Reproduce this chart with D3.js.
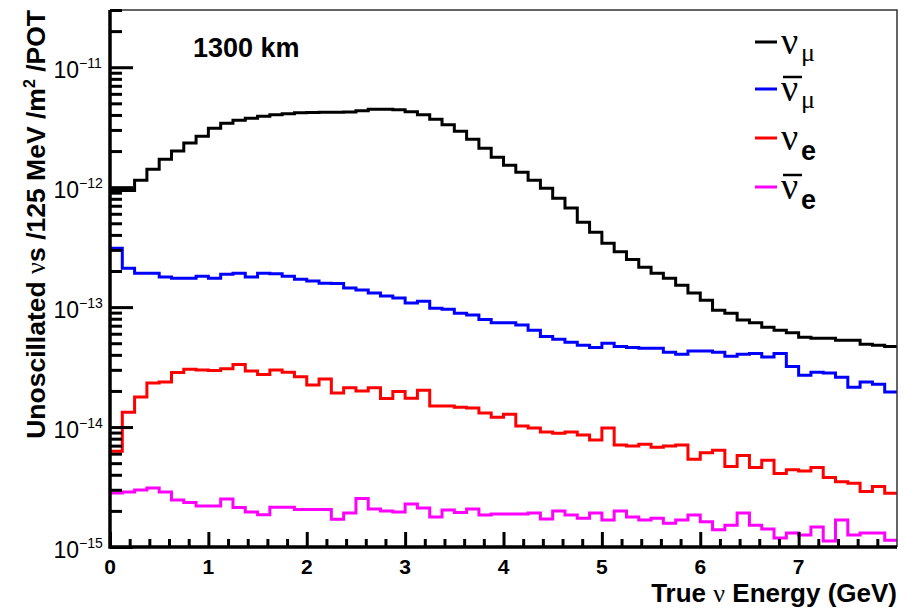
<!DOCTYPE html>
<html>
<head>
<meta charset="utf-8">
<script src="https://cdn.jsdelivr.net/npm/d3@7"></script>
<style>
	body { margin: 0; background: #fff; }
	svg { display: block; font-family: "Liberation Sans", Arial, Helvetica, sans-serif; }
</style>
</head>
<body>
<div id="graph"></div>
<script>
let width = 911;
let height = 609;

let padding = {
	top: 10,
	right: 14,
	bottom: 62,
	left: 110
	};

// 64 bins of 125 MeV from 0 to 8 GeV
let binWidth = 0.125;
let binEdges = d3.range(64).map(i => i * binWidth);

// Unoscillated fluxes per bin
let numu = [
	9.4e-13, 9.4e-13, 1.14e-12, 1.41e-12, 1.71e-12, 2.0e-12, 2.33e-12, 2.66e-12,
	3.1e-12, 3.41e-12, 3.62e-12, 3.76e-12, 3.91e-12, 4.02e-12, 4.1e-12, 4.18e-12,
	4.2e-12, 4.22e-12, 4.22e-12, 4.24e-12, 4.34e-12, 4.47e-12, 4.47e-12, 4.43e-12,
	4.26e-12, 4.02e-12, 3.69e-12, 3.32e-12, 2.93e-12, 2.51e-12, 2.11e-12, 1.78e-12,
	1.52e-12, 1.33e-12, 1.14e-12, 9.8e-13, 8.1e-13, 6.7e-13, 5.1e-13, 4.2e-13,
	3.4e-13, 2.9e-13, 2.5e-13, 2.15e-13, 1.92e-13, 1.74e-13, 1.52e-13, 1.31e-13,
	1.14e-13, 9.4e-14, 8.9e-14, 7.8e-14, 7.4e-14, 6.8e-14, 6.4e-14, 6.1e-14,
	5.6e-14, 5.5e-14, 5.5e-14, 5.3e-14, 5.3e-14, 4.9e-14, 4.8e-14, 4.7e-14
	];
let numubar = [
	3.1e-13, 2.11e-13, 1.92e-13, 1.92e-13, 1.78e-13, 1.74e-13, 1.74e-13, 1.81e-13,
	1.74e-13, 1.88e-13, 1.92e-13, 1.78e-13, 1.92e-13, 1.9e-13, 1.81e-13, 1.71e-13,
	1.65e-13, 1.58e-13, 1.57e-13, 1.44e-13, 1.39e-13, 1.31e-13, 1.24e-13, 1.19e-13,
	1.08e-13, 1.12e-13, 9.8e-14, 9.6e-14, 8.9e-14, 8.6e-14, 7.9e-14, 7.4e-14,
	7.4e-14, 7.1e-14, 6.4e-14, 5.7e-14, 5.4e-14, 5.1e-14, 4.8e-14, 4.6e-14,
	5.0e-14, 4.7e-14, 4.6e-14, 4.55e-14, 4.55e-14, 4.2e-14, 4.05e-14, 4.3e-14,
	4.3e-14, 4.2e-14, 3.9e-14, 4.05e-14, 4.1e-14, 3.83e-14, 4.1e-14, 3.2e-14,
	2.7e-14, 2.87e-14, 2.82e-14, 2.6e-14, 2.15e-14, 2.37e-14, 2.28e-14, 1.96e-14
	];
let nue = [
	6.3e-15, 1.33e-14, 1.78e-14, 2.33e-14, 2.37e-14, 2.85e-14, 3.04e-14, 2.99e-14,
	2.96e-14, 3.07e-14, 3.32e-14, 2.93e-14, 2.74e-14, 2.99e-14, 2.87e-14, 2.63e-14,
	2.24e-14, 2.51e-14, 1.92e-14, 2.13e-14, 2.0e-14, 2.13e-14, 1.73e-14, 1.98e-14,
	1.74e-14, 2.03e-14, 1.5e-14, 1.5e-14, 1.46e-14, 1.44e-14, 1.31e-14, 1.21e-14,
	1.28e-14, 1.02e-14, 9.8e-15, 9.1e-15, 8.9e-15, 9.1e-15, 8.6e-15, 7.8e-15,
	9.8e-15, 7.1e-15, 6.95e-15, 7.2e-15, 6.8e-15, 6.95e-15, 7.1e-15, 5.4e-15,
	6.1e-15, 6.4e-15, 4.7e-15, 5.8e-15, 4.6e-15, 5.3e-15, 4.1e-15, 4.4e-15,
	4.3e-15, 4.6e-15, 3.8e-15, 3.5e-15, 3.4e-15, 2.9e-15, 3.2e-15, 2.8e-15
	];
let nuebar = [
	2.82e-15, 2.87e-15, 2.99e-15, 3.1e-15, 2.87e-15, 2.46e-15, 2.35e-15, 2.2e-15,
	2.2e-15, 2.51e-15, 2.13e-15, 1.96e-15, 1.86e-15, 2.15e-15, 2.15e-15, 2.05e-15,
	2.05e-15, 2.05e-15, 1.7e-15, 1.92e-15, 2.54e-15, 2.07e-15, 2.0e-15, 1.96e-15,
	2.28e-15, 2.11e-15, 1.78e-15, 2.03e-15, 1.94e-15, 2.07e-15, 1.85e-15, 1.88e-15,
	1.88e-15, 1.88e-15, 1.92e-15, 1.71e-15, 2.0e-15, 1.85e-15, 1.74e-15, 1.92e-15,
	1.68e-15, 2.0e-15, 1.78e-15, 1.68e-15, 1.74e-15, 1.58e-15, 1.68e-15, 1.85e-15,
	1.62e-15, 1.39e-15, 1.52e-15, 1.92e-15, 1.52e-15, 1.41e-15, 1.19e-15, 1.31e-15,
	1.26e-15, 1.47e-15, 1.12e-15, 1.68e-15, 1.26e-15, 1.31e-15, 1.31e-15, 1.14e-15
	];

let seriesColours = ["#000000", "#0000ff", "#ff0000", "#ff00ff"];
let seriesFlavour = ["μ", "μ", "e", "e"];
let seriesBar = [false, true, false, true];

let xTicks = [0, 1, 2, 3, 4, 5, 6, 7];
let yTicks = [1e-15, 1e-14, 1e-13, 1e-12, 1e-11];


let svg = d3.select("#graph")
	.append("svg")
		.attr("width", width)
		.attr("height", height)
	;

let xScale = d3.scaleLinear()
	.domain([0, 8])
	.range([padding.left, width - padding.right])
	;
let yScale = d3.scaleLog()
	.domain([1e-15, 3e-11])
	.range([height - padding.bottom, padding.top])
	;

let x0 = xScale.range()[0], x1 = xScale.range()[1];
let yb = yScale.range()[0], yt = yScale.range()[1];


// Minor ticks: 2..9 in each decade, 0.2 GeV along x
let yMinor = [];
for (let k = -15; k <= -11; k++) {
	for (let m = 2; m <= 9; m++) {
		let v = m * Math.pow(10, k);
		if (v <= 3.0001e-11) yMinor.push(v);
		}
	}
let xMinor = d3.range(0, 40).map(i => i * 0.2).filter(v => Math.abs(v - Math.round(v)) > 1e-6);


// Histograms:
let line = d3.line()
	.x(d => xScale(d[0]))
	.y(d => yScale(d[1]))
	.curve(d3.curveStepAfter)
	;

[numu, numubar, nue, nuebar].forEach((series, s) => {
	let pts = series.map((v, i) => [binEdges[i], v]);
	pts.push([8, series[series.length - 1]]);
	svg.append("path")
		.attr("d", line(pts))
		.attr("fill", "none")
		.attr("stroke", seriesColours[s])
		.attr("stroke-width", 3)
		.attr("stroke-linejoin", "miter")
		;
	});


// Frame (thin top / right):
svg.append("path")
	.attr("d", `M${x0},${yt}H${x1}V${yb}`)
	.attr("fill", "none")
	.attr("stroke", "#333")
	.attr("stroke-width", 1.5)
	;

// Y axis, ticks pointing into the frame:
let yAxisMajor = d3.axisRight(yScale).tickValues(yTicks).tickSize(23).tickFormat("");
let yAxisMinor = d3.axisRight(yScale).tickValues(yMinor).tickSize(12).tickFormat("");
[yAxisMajor, yAxisMinor].forEach(ax => {
	let g = svg.append("g")
		.attr("transform", `translate(${x0},0)`)
		.call(ax);
	g.select(".domain").remove();
	g.selectAll("line").attr("stroke", "#000").attr("stroke-width", 3);
	});

// X axis, ticks pointing up:
let xAxisMajor = d3.axisTop(xScale).tickValues(xTicks).tickSize(15).tickFormat("");
let xAxisMinor = d3.axisTop(xScale).tickValues(xMinor).tickSize(8).tickFormat("");
[xAxisMajor, xAxisMinor].forEach(ax => {
	let g = svg.append("g")
		.attr("transform", `translate(0,${yb})`)
		.call(ax);
	g.select(".domain").remove();
	g.selectAll("line").attr("stroke", "#000").attr("stroke-width", 3);
	});

// Thick axis lines
svg.append("path")
	.attr("d", `M${x0},${yt}V${yb}H${x1}`)
	.attr("fill", "none")
	.attr("stroke", "#000")
	.attr("stroke-width", 3.5)
	;


// Y tick labels: 10^k
yTicks.forEach(v => {
	let k = Math.round(Math.log10(v));
	svg.append("text")
		.attr("x", 79)
		.attr("y", yScale(v) + 11)
		.attr("text-anchor", "end")
		.attr("font-size", 23)
		.text("10");
	svg.append("text")
		.attr("x", 79)
		.attr("y", yScale(v) + 1)
		.attr("font-size", 14)
		.text("\u2212" + Math.abs(k));
	});

// X tick labels
svg.selectAll(".xlab")
	.data(xTicks)
	.enter()
	.append("text")
		.attr("class", "xlab")
		.attr("x", d => xScale(d))
		.attr("y", 574)
		.attr("text-anchor", "middle")
		.attr("font-size", 21)
		.attr("font-weight", "bold")
		.text(d => d)
	;


// Axis titles
let yTitle = svg.append("text")
	.attr("transform", `translate(45,${yt}) rotate(-90)`)
	.attr("text-anchor", "end")
	.attr("font-size", 26.5)
	.attr("font-weight", "bold")
	;
yTitle.append("tspan").text("Unoscillated ");
yTitle.append("tspan").attr("font-family", "Liberation Serif, serif").attr("font-weight", "normal").text("ν");
yTitle.append("tspan").text("s /125 MeV /m");
yTitle.append("tspan").attr("font-size", 16).attr("dy", -10).text("2");
yTitle.append("tspan").attr("dy", 10).text(" /POT");

let xTitle = svg.append("text")
	.attr("x", x1)
	.attr("y", 602)
	.attr("text-anchor", "end")
	.attr("font-size", 26)
	.attr("font-weight", "bold")
	;
xTitle.append("tspan").text("True ");
xTitle.append("tspan").attr("font-family", "Liberation Serif, serif").attr("font-weight", "normal").text("ν");
xTitle.append("tspan").text(" Energy (GeV)");

svg.append("text")
	.attr("x", 193)
	.attr("y", 57)
	.attr("font-size", 27)
	.attr("font-weight", "bold")
	.text("1300 km")
	;


// Legend
let legendRowY = [42, 89, 138, 187];
seriesColours.forEach((c, s) => {
	let ly = legendRowY[s];
	svg.append("line")
		.attr("x1", 755).attr("x2", 777)
		.attr("y1", ly).attr("y2", ly)
		.attr("stroke", c)
		.attr("stroke-width", 3)
		;
	svg.append("text")
		.attr("x", 781)
		.attr("y", ly + 12)
		.attr("font-family", "Liberation Serif, serif")
		.attr("font-size", 38)
		.text("ν")
		;
	if (seriesBar[s]) {
		svg.append("line")
			.attr("x1", 783).attr("x2", 802)
			.attr("y1", ly - 12).attr("y2", ly - 12)
			.attr("stroke", "#000")
			.attr("stroke-width", 2.5)
			;
		}
	let sub = svg.append("text")
		.attr("x", 801)
		.text(seriesFlavour[s]);
	if (seriesFlavour[s] === "μ") {
		sub.attr("y", ly + 19)
			.attr("font-family", "Liberation Serif, serif")
			.attr("font-size", 26);
		}
	else {
		sub.attr("y", ly + 22)
			.attr("font-size", 27)
			.attr("font-weight", "bold");
		}
	});
</script>
</body>
</html>
